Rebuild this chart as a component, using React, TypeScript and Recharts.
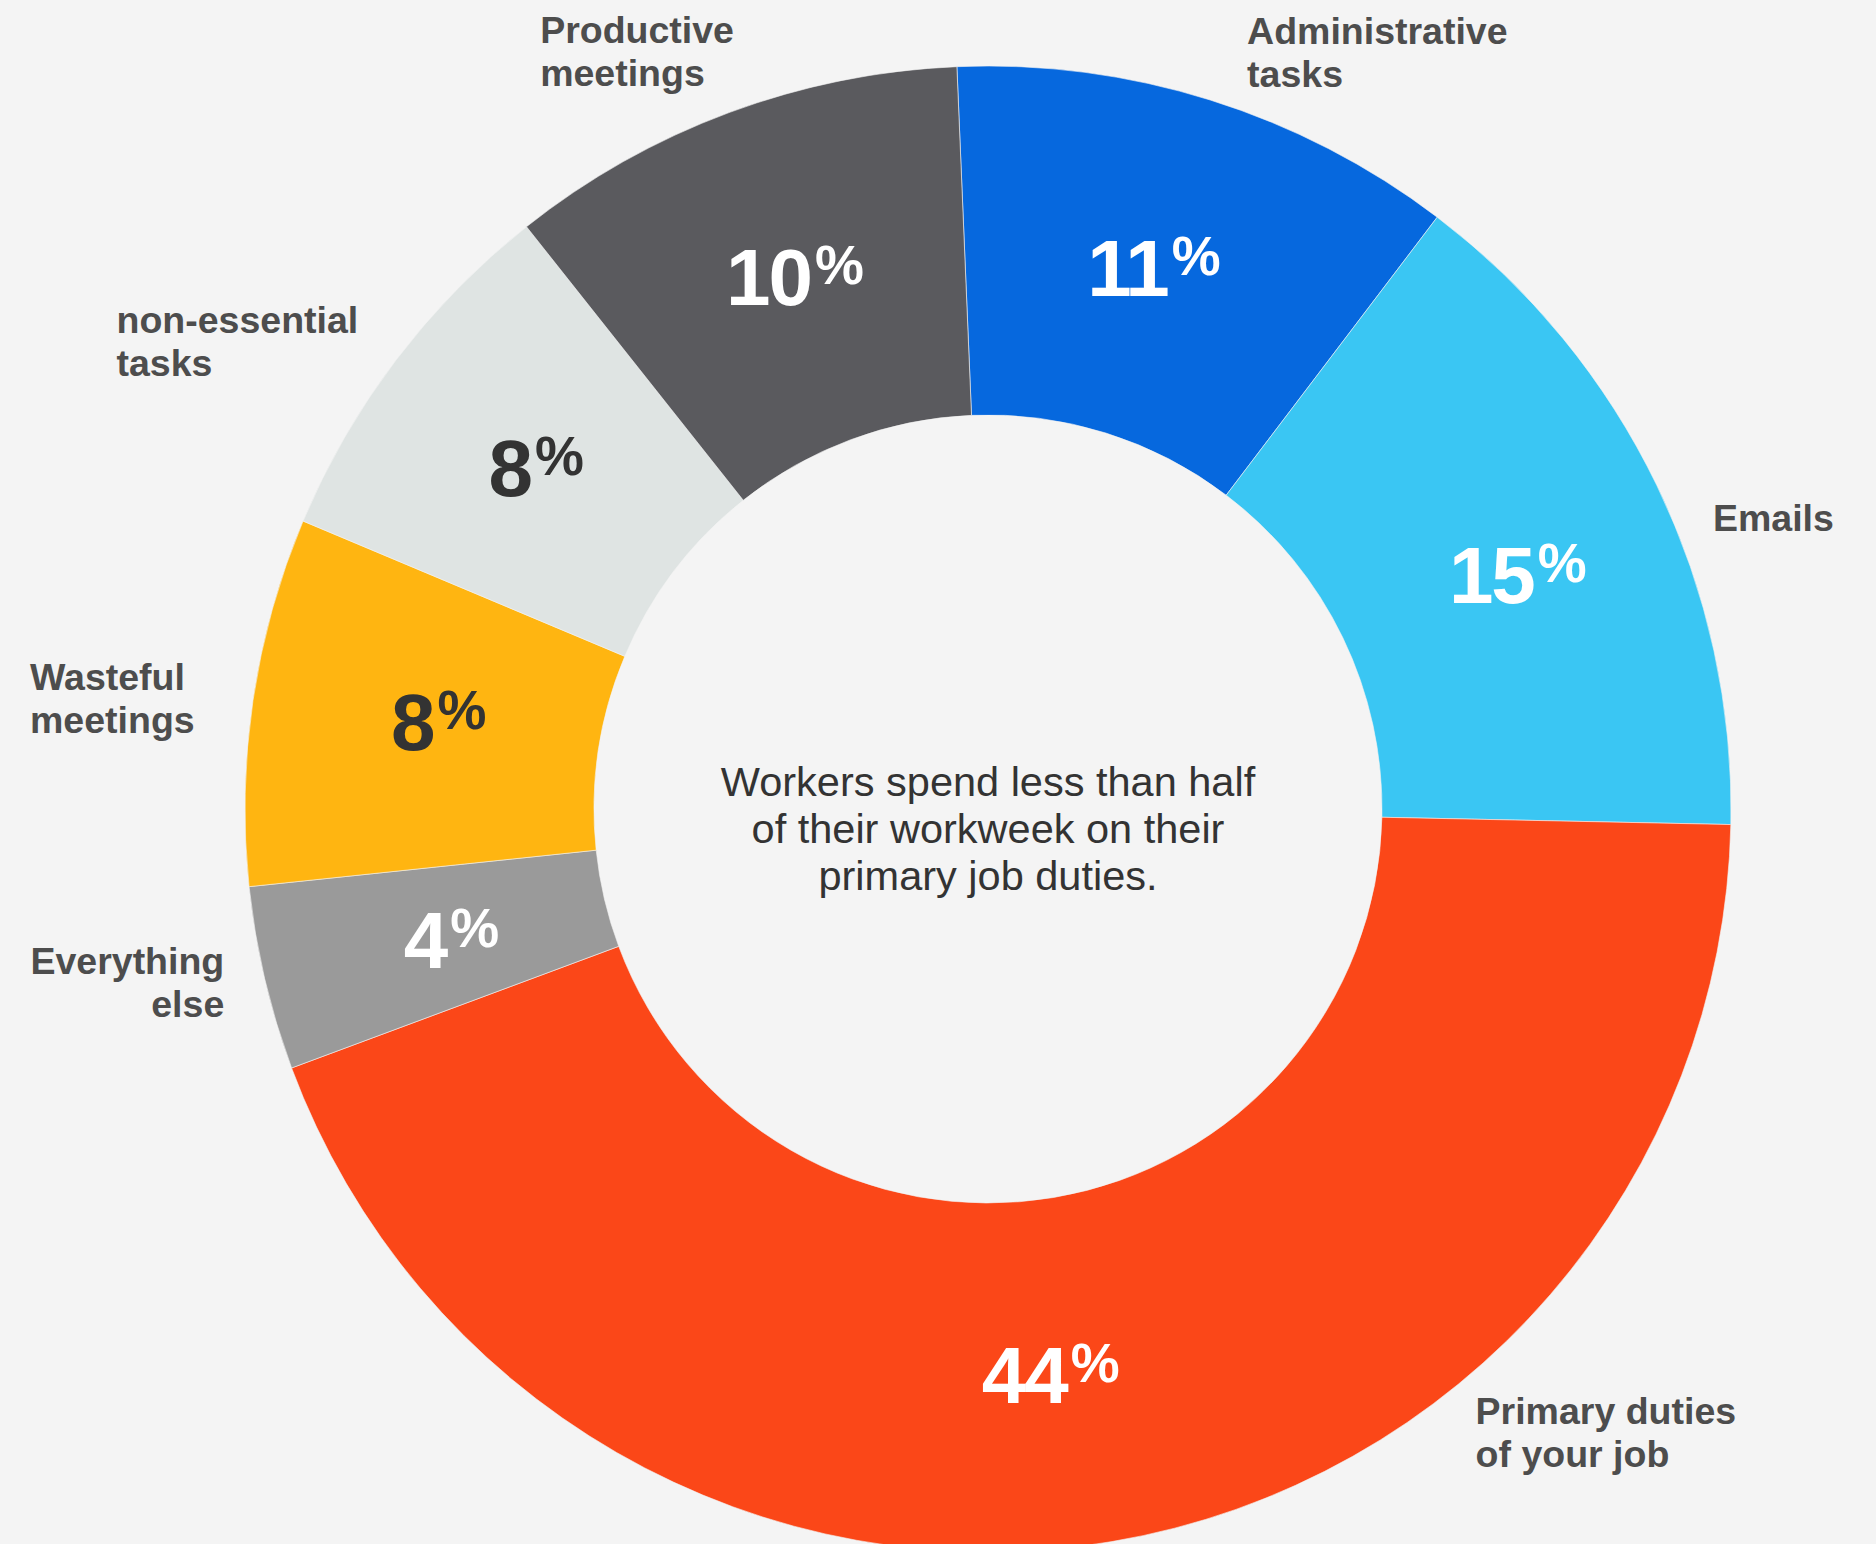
import React from 'react';
import { PieChart, Pie, Cell } from 'recharts';

const categories = [
  'Administrative tasks',
  'Emails',
  'Primary duties of your job',
  'Everything else',
  'Wasteful meetings',
  'non-essential tasks',
  'Productive meetings',
];
const labelLines = [
  ['Administrative', 'tasks'],
  ['Emails'],
  ['Primary duties', 'of your job'],
  ['Everything', 'else'],
  ['Wasteful', 'meetings'],
  ['non-essential', 'tasks'],
  ['Productive', 'meetings'],
];
const shares = [11, 15, 44, 4, 8, 8, 10];
const centerLines = ['Workers spend less than half', 'of their workweek on their', 'primary job duties.'];

const sliceColors = ['#0668DE', '#3AC6F3', '#FB4718', '#9A9A9A', '#FFB511', '#DFE4E3', '#5A5A5E'];
const valueTextColors = ['#FFFFFF', '#FFFFFF', '#FFFFFF', '#FFFFFF', '#333333', '#333333', '#FFFFFF'];
// small nudges of the in-ring value labels from the slice mid-point
const valueNudges: [number, number][] = [
  [-4, 0],
  [18, 12],
  [-32, 4],
  [17, 0],
  [13, -5],
  [1, 2],
  [5, 0],
];
// label block offset from a point just outside the ring on the slice mid-angle
const labelOffsets: [number, number, 'start' | 'end'][] = [
  [7, 39, 'start'],
  [-34, 89, 'start'],
  [347, -216, 'start'],
  [57, -27, 'end'],
  [-124, 4, 'start'],
  [-200, 34, 'start'],
  [-154, 24, 'start'],
];

const data = categories.map((name, i) => ({ name, value: shares[i] }));

const FONT = '"Liberation Sans", Arial, Helvetica, sans-serif';
const RAD = Math.PI / 180;

const renderLabel = (props: any) => {
  const { cx, cy, midAngle, innerRadius, outerRadius, index } = props;
  const rMid = (innerRadius + outerRadius) / 2;
  const mx = cx + rMid * Math.cos(-midAngle * RAD) + valueNudges[index][0];
  const my = cy + rMid * Math.sin(-midAngle * RAD) + valueNudges[index][1];
  const rOut = outerRadius + 100;
  const ox = cx + rOut * Math.cos(-midAngle * RAD);
  const oy = cy + rOut * Math.sin(-midAngle * RAD);
  const [dx, dy, anchor] = labelOffsets[index];
  const lines = labelLines[index];
  return (
    <g key={`lbl-${index}`}>
      <text
        x={mx}
        y={my + 29}
        textAnchor="middle"
        fill={valueTextColors[index]}
        fontFamily={FONT}
        fontWeight={700}
      >
        <tspan fontSize={80} letterSpacing={-2}>{shares[index]}</tspan>
        <tspan fontSize={55} dx={4} dy={-21}>%</tspan>
      </text>
      <text
        x={ox + dx}
        y={oy + dy}
        textAnchor={anchor}
        fill="#4D4D4D"
        fontFamily={FONT}
        fontWeight={700}
        fontSize={37.5}
      >
        {lines.map((ln, j) => (
          <tspan key={j} x={ox + dx} dy={j === 0 ? 0 : 43}>{ln}</tspan>
        ))}
      </text>
      {index === 0 && (
        <text
          x={cx}
          y={cy - 13}
          textAnchor="middle"
          fill="#333333"
          fontFamily={FONT}
          fontSize={41.5}
        >
          {centerLines.map((ln, j) => (
            <tspan key={j} x={cx} dy={j === 0 ? 0 : 47}>{ln}</tspan>
          ))}
        </text>
      )}
    </g>
  );
};

export default function App() {
  return (
    <div
      style={{
        position: 'absolute',
        left: 0,
        top: 0,
        width: 1876,
        height: 1544,
        background: '#F4F4F4',
        overflow: 'hidden',
      }}
    >
      <PieChart width={1876} height={1544} margin={{ top: 0, right: 0, bottom: 0, left: 0 }}>
        <Pie
          data={data}
          dataKey="value"
          nameKey="name"
          cx={988}
          cy={809}
          innerRadius={394}
          outerRadius={743}
          startAngle={92.4}
          endAngle={-267.6}
          paddingAngle={0}
          stroke="#F4F4F4"
          strokeWidth={0.6}
          label={renderLabel}
          labelLine={false}
          isAnimationActive={false}
        >
          {data.map((d, i) => (
            <Cell key={d.name} fill={sliceColors[i]} />
          ))}
        </Pie>
      </PieChart>
    </div>
  );
}
